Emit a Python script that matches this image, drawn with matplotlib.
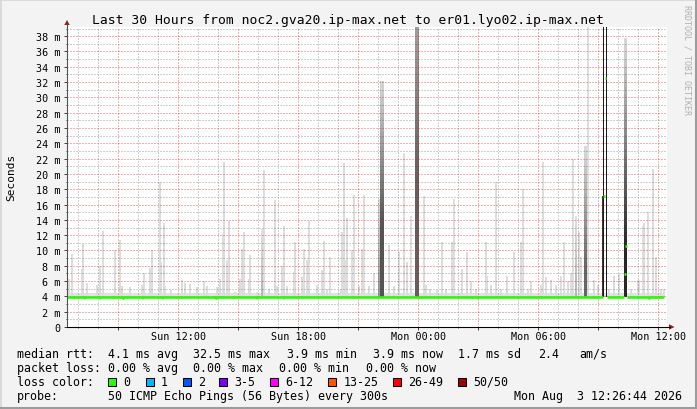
import matplotlib
matplotlib.use('Agg')
import matplotlib.pyplot as plt
from matplotlib.lines import Line2D
from matplotlib.patches import Rectangle, Polygon
from matplotlib.ticker import MultipleLocator, FuncFormatter
import numpy as np

W, H = 697, 410
plt.rcParams['font.family'] = ['DejaVu Sans Mono']

# x axis in hours since Sun 00:00
t_start, t_end = 6.446, 36.446
ymax = 39.2
tick_pos = [12, 18, 24, 30, 36]
tick_lab = ['Sun 12:00', 'Sun 18:00', 'Mon 00:00', 'Mon 06:00', 'Mon 12:00']

# light smoke: time of column (h) and highest ping (ms)
spike_t = [6.57, 6.69, 7.19, 7.27, 7.44, 7.94, 8.11, 8.24, 8.86, 9.11,
           9.20, 9.61, 10.20, 10.28, 10.61, 10.71, 11.08, 11.16, 11.28, 11.36,
           11.66, 12.20, 12.37, 12.62, 12.95, 13.32, 13.45, 13.95, 14.12, 14.23,
           14.28, 14.45, 14.53, 14.87, 15.12, 15.20, 15.28, 15.54, 15.62, 15.96,
           16.29, 16.54, 16.87, 16.96, 17.21, 17.29, 17.46, 17.79, 17.87, 18.21,
           18.29, 18.46, 18.54, 18.96, 19.21, 19.29, 19.46, 19.59, 20.13, 20.21,
           20.29, 20.38, 20.46, 20.71, 20.79, 21.04, 21.21, 21.29, 21.54, 21.79,
           22.55, 22.80, 23.03, 23.30, 23.47, 23.63, 24.28, 24.38, 24.58, 24.93,
           25.22, 25.38, 25.72, 25.80, 26.22, 26.47, 26.64, 26.89, 27.39, 27.47,
           27.64, 27.89, 28.14, 28.47, 28.81, 29.14, 29.23, 29.48, 29.64, 30.14,
           30.23, 30.39, 30.64, 30.89, 31.14, 31.31, 31.49, 31.64, 31.77, 32.06,
           32.14, 32.48, 32.81, 32.98, 33.56, 33.81, 34.06, 34.65, 34.98, 35.06,
           35.23, 35.31, 35.49, 35.74, 35.90, 36.14, 36.30]
spike_ms = [6.3, 9.6, 7.6, 10.9, 5.8, 5.5, 8.0, 12.5, 10.0, 11.4,
            5.4, 5.2, 5.5, 7.0, 7.7, 10.0, 19.0, 8.5, 13.6, 5.4,
            4.9, 6.1, 5.7, 5.6, 5.2, 6.0, 5.4, 5.2, 6.3, 12.1,
            21.5, 8.7, 13.9, 4.6, 6.3, 10.2, 12.4, 6.3, 9.4, 4.6,
            20.5, 5.0, 16.6, 5.4, 8.0, 13.2, 5.4, 7.2, 11.1, 6.5,
            10.2, 8.7, 13.9, 5.5, 7.4, 11.2, 5.0, 9.1, 5.0, 12.4,
            21.4, 8.8, 14.3, 10.0, 17.2, 5.4, 10.2, 17.3, 5.4, 7.1,
            10.7, 5.4, 9.8, 22.7, 8.5, 14.5, 17.1, 5.5, 5.0, 4.8,
            11.1, 5.0, 11.1, 16.7, 7.6, 9.8, 6.0, 5.0, 11.1, 6.7,
            5.5, 19.0, 5.0, 6.7, 9.8, 11.1, 18.0, 5.0, 6.0, 5.5,
            21.5, 6.5, 6.2, 5.5, 6.7, 11.1, 6.0, 7.1, 21.9, 12.4,
            9.1, 41.0, 6.2, 5.5, 5.0, 6.7, 6.9, 5.0, 6.2, 6.2,
            13.2, 13.6, 15.0, 20.6, 9.1, 5.0, 5.0]

# dense smoke columns: time, top, level below which it is dark, grey at bottom / top, 5-min steps wide
dark_t = [16.21, 22.05, 22.18, 23.96, 31.89, 32.37, 33.25, 33.29, 33.42, 34.36]
dark_top = [12.8, 16.7, 32.2, 41.0, 14.5, 23.6, 17.1, 41.0, 41.0, 37.7]
dark_mid = [5.0, 5.0, 13.7, 19.7, 6.0, 8.0, 17.1, 41.0, 41.0, 10.6]
dark_lo = [0.72, 0.62, 0.33, 0.38, 0.72, 0.40, 0.22, 0.10, 0.10, 0.15]
dark_hi = [0.88, 0.86, 0.84, 0.62, 0.88, 0.86, 0.22, 0.10, 0.10, 0.86]
dark_steps = [1, 1, 2.5, 2.5, 1, 2, 1, 0.6, 0.6, 2]

smoke_floor, smoke_band = 3.9, 4.5
data_start, data_end = 6.456, 36.30

# median rtt
med_from = [6.456, 33.47, 34.43]
med_to = [33.25, 34.32, 36.30]
med_level = 3.95
dip_t = [7.33, 8.08, 9.26, 10.22, 11.22, 13.89, 15.93, 17.27, 26.98, 35.56]
dip_ms = 3.8
jump_t = [33.29, 33.36, 34.34, 34.40]
jump_ms = [17.1, 32.5, 6.9, 10.6]

loss_labels = ['0', '1', '2', '3-5', '6-12', '13-25', '26-49', '50/50']
loss_colors = ['#26ff00', '#00b8ff', '#0059ff', '#7e00ff', '#ff00ff', '#ff5500', '#ff0000', '#a10000']

green = loss_colors[0]


def fx(px):
    return px / W


def fy(py):
    return 1 - py / H


fig = plt.figure(figsize=(W / 100, H / 100), dpi=100, facecolor='#f3f3f3')
ax = fig.add_axes([fx(67), fy(328), 600 / W, 300 / H])
ax.set_facecolor('white')

step = 5 / 60
# base band of smoke
ax.fill_between([data_start, data_end], smoke_floor, smoke_band, color='#e2e2e2', lw=0, zorder=1)
ax.bar(spike_t, np.array(spike_ms) - smoke_floor, bottom=smoke_floor, width=step * 1.2,
       color='#dddddd', lw=0, zorder=1)

for t, top, mid, lo, hi, n in zip(dark_t, dark_top, dark_mid, dark_lo, dark_hi, dark_steps):
    w = n * step
    top = min(top, ymax)
    mid = min(mid, top)
    ax.bar(t, mid - smoke_floor, bottom=smoke_floor, width=w, color=str(lo), lw=0, zorder=1.2)
    if top > mid:
        edges = np.linspace(mid, top, 31)
        for i in range(30):
            f = (i + 0.5) / 30
            c = lo + (hi - lo) * f
            ax.bar(t, edges[i + 1] - edges[i], bottom=edges[i], width=w, color=str(c), lw=0, zorder=1.2)

# median line
ax.hlines([med_level] * len(med_from), med_from, med_to, color=green, lw=1.9, zorder=4)
ax.hlines([dip_ms] * len(dip_t), np.array(dip_t) - 0.04, np.array(dip_t) + 0.04, color=green, lw=1.9, zorder=4)
ax.hlines(jump_ms, np.array(jump_t) - 0.035, np.array(jump_t) + 0.035, color=green, lw=1.9, zorder=4)

ax.set_xlim(t_start, t_end)
ax.set_ylim(0, ymax)

# ticks
lab = dict(zip(tick_pos, tick_lab))
ax.xaxis.set_major_locator(MultipleLocator(3))
ax.xaxis.set_minor_locator(MultipleLocator(1))
ax.xaxis.set_major_formatter(FuncFormatter(lambda v, p: lab.get(int(round(v)), '')))
ax.yaxis.set_major_locator(MultipleLocator(2))
ax.yaxis.set_minor_locator(MultipleLocator(1))
ax.yaxis.set_major_formatter(FuncFormatter(lambda v, p: '0' if v == 0 else '%d m' % v))
ax.tick_params(axis='both', which='major', labelsize=7.3, color='#404040', labelcolor='black')
ax.tick_params(axis='y', which='major', direction='out', length=2.2, width=0.7, pad=2.6)
ax.tick_params(axis='y', which='minor', direction='out', length=1, width=0.7, color='#404040')
ax.tick_params(axis='x', which='major', direction='out', length=2, width=0.7, pad=1.2)
ax.tick_params(axis='x', which='minor', direction='out', length=1, width=0.7, color='#404040')

# dotted, translucent grid drawn over the smoke
ax.set_axisbelow(False)
ax.grid(which='major', color=(0.9, 0.1, 0.1), alpha=0.34, lw=0.72, linestyle=(0, (2, 1.2)),
        antialiased=False)
ax.grid(which='minor', color=(0.25, 0.25, 0.25), alpha=0.25, lw=0.72, linestyle=(0, (2, 1.2)),
        antialiased=False)

for s in ['top', 'right']:
    ax.spines[s].set_visible(False)
ax.spines['left'].set_color('#505050')
ax.spines['left'].set_linewidth(0.75)
ax.spines['bottom'].set_color('#000000')
ax.spines['bottom'].set_linewidth(0.75)

# axis extensions and arrows
fig.add_artist(Line2D([fx(67), fx(67)], [fy(328), fy(25)], color='#505050', lw=0.75))
fig.add_artist(Line2D([fx(67), fx(670)], [fy(328), fy(328)], color='black', lw=0.75))
fig.add_artist(Polygon([[fx(64.3), fy(26)], [fx(69.7), fy(26)], [fx(67), fy(21)]],
                       closed=True, color='#8f1d1d', lw=0))
fig.add_artist(Polygon([[fx(669), fy(325.3)], [fx(669), fy(330.7)], [fx(674.5), fy(328)]],
                       closed=True, color='#8f1d1d', lw=0))

# texts
fig.text(fx(347.5), fy(24), 'Last 30 Hours from noc2.gva20.ip-max.net to er01.lyo02.ip-max.net',
         ha='center', va='baseline', fontsize=9.4)
fig.text(fx(11), fy(177), 'Seconds', rotation=90, ha='center', va='center', fontsize=8)
fig.text(fx(686.5), fy(60), 'RRDTOOL / TOBI OETIKER', rotation=270, ha='center', va='center',
         fontsize=6, color='#b0b0b0')

fs = 8.4
rows = [
    (358, [('median rtt:', 17), ('4.1 ms avg', 108), ('32.5 ms max', 193.3), ('3.9 ms min', 286.7),
           ('3.9 ms now', 372.7), ('1.7 ms sd', 458.3), ('2.4', 538), ('am/s', 579.3)]),
    (372, [('packet loss:', 17), ('0.00 % avg', 108), ('0.00 % max', 193.3), ('0.00 % min', 279.3),
           ('0.00 % now', 366)]),
    (386, [('loss color:', 17)]),
    (400, [('probe:', 17), ('50 ICMP Echo Pings (56 Bytes) every 300s', 108)]),
]
for y, items in rows:
    for txt, x in items:
        fig.text(fx(x), fy(y), txt, ha='left', va='baseline', fontsize=fs)
fig.text(fx(682), fy(400), 'Mon Aug  3 12:26:44 2026', ha='right', va='baseline', fontsize=fs)

box_x = [108.3, 145.7, 182.7, 219.3, 270, 328.3, 393.3, 458.3]
for bx, lbl, col in zip(box_x, loss_labels, loss_colors):
    fig.add_artist(Rectangle((fx(bx), fy(386.5)), 8 / W, 8 / H, facecolor=col,
                             edgecolor='black', lw=0.75))
    fig.text(fx(bx + 15), fy(386), lbl, ha='left', va='baseline', fontsize=fs)

# frame
fig.add_artist(Line2D([0, 1], [fy(0.5), fy(0.5)], color='#dadada', lw=1.4))
fig.add_artist(Line2D([fx(0.5), fx(0.5)], [0, 1], color='#dadada', lw=1.4))
fig.add_artist(Line2D([0, 1], [fy(408.5), fy(408.5)], color='#9c9c9c', lw=2.2))
fig.add_artist(Line2D([fx(695.5), fx(695.5)], [0, 1], color='#9c9c9c', lw=2.2))

fig.savefig('out.png', dpi=100, facecolor=fig.get_facecolor())
